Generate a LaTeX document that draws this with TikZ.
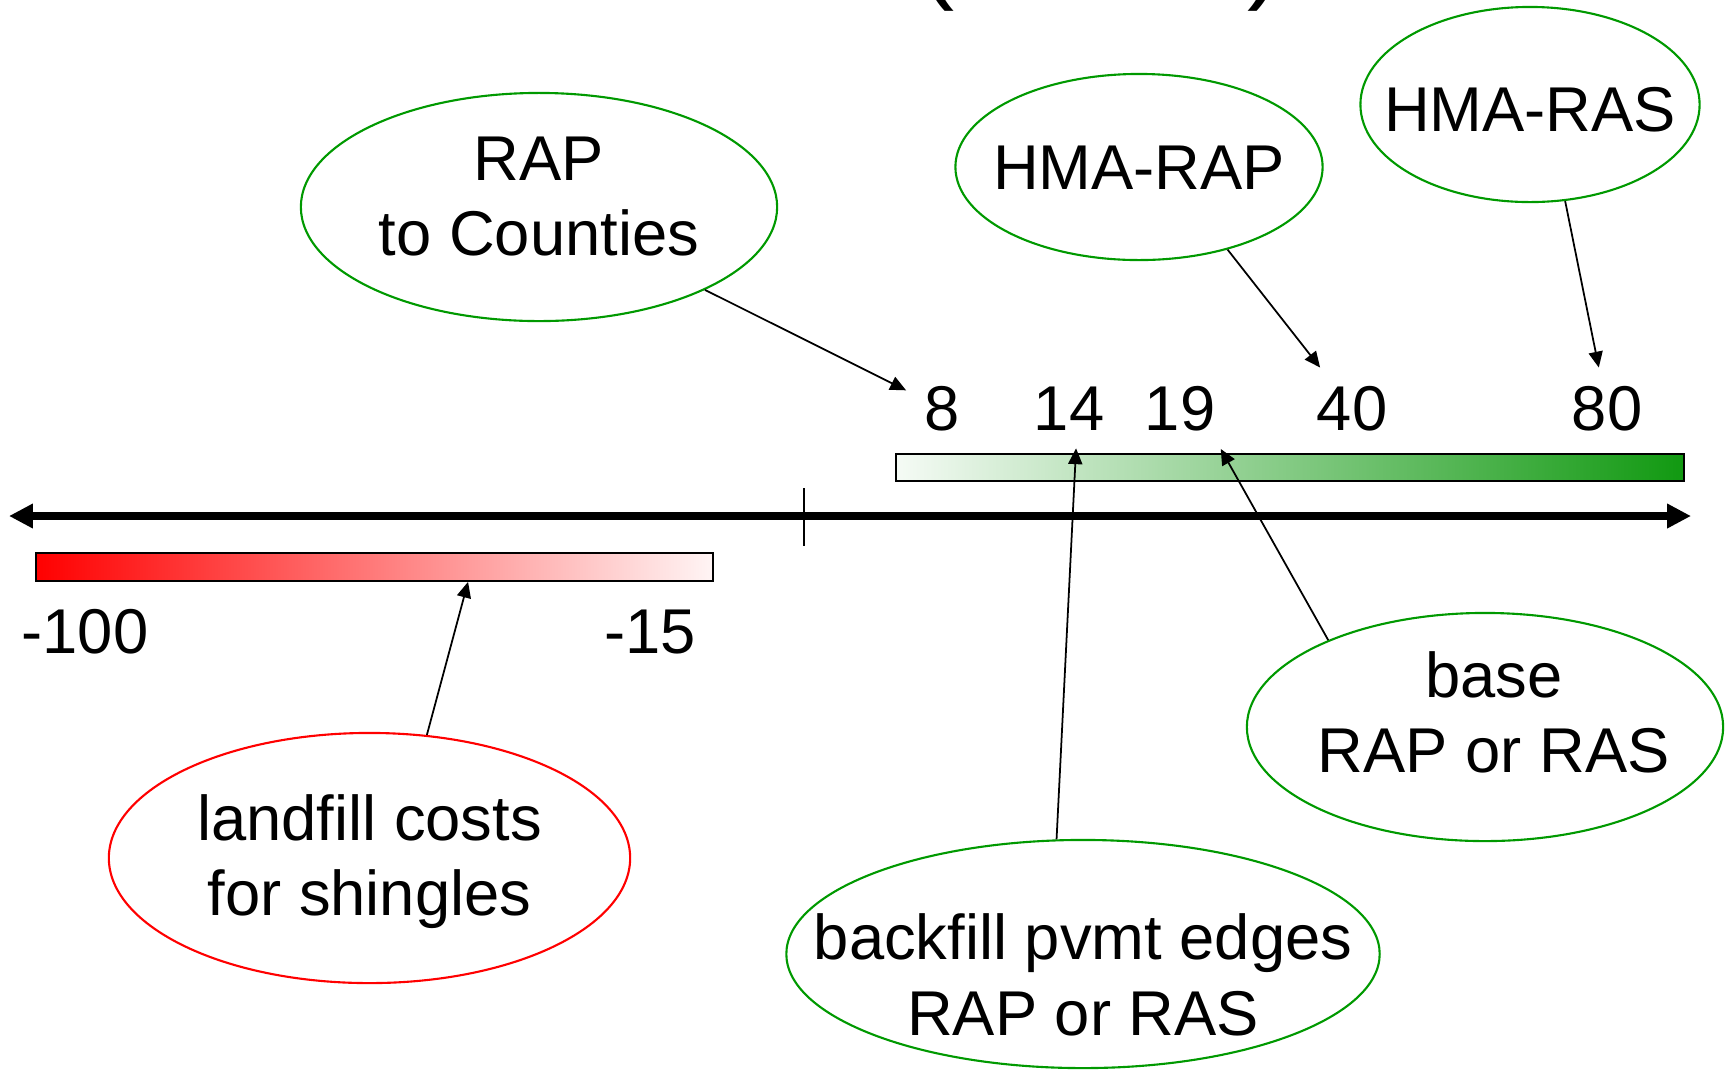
\documentclass[tikz,border=0pt]{standalone}
\usepackage{fontspec}
\setmainfont{Liberation Sans}
\usetikzlibrary{arrows.meta,shapes.geometric,positioning}
\definecolor{bubgreen}{RGB}{0,153,0}
\definecolor{bargreen}{RGB}{17,153,17}

\begin{document}
\begin{tikzpicture}[x=0.01cm,y=-0.01cm,font=\fontsize{18}{21.6}\selectfont,
  bub/.style={ellipse,draw=bubgreen,line width=.6pt,align=center,inner xsep=-20pt,inner ysep=-2pt},
  redbub/.style={bub,draw=red},
  numlab/.style={anchor=base,inner sep=5pt},
  pointer/.style={-{Triangle[length=4.5pt,width=4pt]},line width=.5pt},
  bar/.style={draw,line width=.6pt,minimum height=.275cm,inner sep=0pt}] %y runs downwards

\useasboundingbox (0,0) rectangle (1728,1069);

\node (title) [anchor=base,font=\fontsize{30}{36}\selectfont] at (1101,-11) {(\$ / ton)};

\coordinate (axl) at (9,516);
\coordinate (axr) at (1691,516);
\draw [{Triangle[length=6.8pt,width=6.6pt]}-{Triangle[length=6.8pt,width=6.6pt]},line width=2.3pt] (axl) -- (axr);
\draw [line width=.5pt] (804,488) -- (804,546);

\node (redbar) [bar,minimum width=6.77cm,left color=red,middle color=red!38,right color=red!4] at (374.5,567) {};
\node (greenbar) [bar,minimum width=7.88cm,left color=bargreen!4,middle color=bargreen!28,right color=bargreen] at (1290,467.5) {};

\node (n8) [numlab] at (942,430) {8};
\node (n14) [numlab] at (1069,430) {14};
\node (n19) [numlab] at (1180,430) {19};
\node (n40) [numlab] at (1352,430) {40};
\node (n80) [numlab] at (1607,430) {80};
\node (m100) [numlab] at (85,653) {-100};
\node (m15) [numlab] at (650,653) {-15};

\node (rap) [bub,minimum width=4.76cm,minimum height=2.28cm] at (539,207) {\rule{0pt}{13.2pt}RAP\\to Counties\rule[-6.96pt]{0pt}{6.96pt}};
\node (hmarap) [bub,minimum width=3.67cm,minimum height=1.86cm] at (1139,167) {\rule{0pt}{12.9pt}HMA-RAP};
\node (hmaras) [bub,minimum width=3.39cm,minimum height=1.95cm] at (1530,104.5) {\rule{0pt}{15.7pt}HMA-RAS};
\node (base) [bub,minimum width=4.76cm,minimum height=2.28cm] at (1485,727) {\rule{0pt}{13.4pt}\hspace{5pt}base\\\hspace{5pt}RAP or RAS\rule[-8.87pt]{0pt}{8.87pt}};
\node (backfill) [bub,minimum width=5.93cm,minimum height=2.28cm] at (1083,954) {\rule{0pt}{25pt}backfill pvmt edges\\RAP or RAS};
\node (landfill) [redbub,minimum width=5.21cm,minimum height=2.50cm] at (369.5,858) {\rule{0pt}{15.26pt}landfill costs\\for shingles\rule[-3.9pt]{0pt}{3.9pt}};

\draw [pointer] (rap) -- (n8);
\draw [pointer] (hmarap.317) -- (n40);
\draw [pointer] (hmaras.290) -- (n80);
\draw [pointer] (base.151) -- (n19.315);
\draw [pointer] (backfill.103) -- (n14.280);
\draw [pointer] (landfill.65) -- (redbar.351.6);
\end{tikzpicture}
\end{document}
